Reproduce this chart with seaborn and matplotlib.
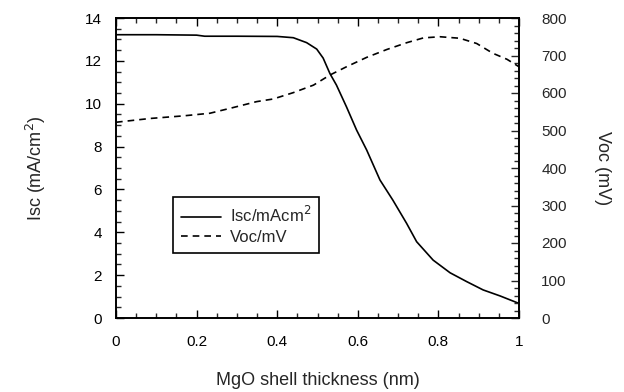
import seaborn as sns
import matplotlib.pyplot as plt
import pandas as pd
from matplotlib.ticker import MultipleLocator

sns.set_theme(style="ticks")
plt.rcParams['font.family'] = ['Liberation Sans', 'DejaVu Sans']

# data
thick_isc = [0.0, 0.1, 0.2, 0.22, 0.3, 0.4, 0.44, 0.473, 0.498, 0.514, 0.531, 0.547,
             0.572, 0.597, 0.622, 0.655, 0.687, 0.721, 0.746, 0.787, 0.829, 0.87,
             0.911, 0.953, 1.0]
isc = [13.22, 13.22, 13.2, 13.15, 13.15, 13.14, 13.08, 12.85, 12.55, 12.13, 11.4, 10.87,
       9.85, 8.77, 7.84, 6.44, 5.5, 4.42, 3.56, 2.7, 2.11, 1.7, 1.31, 1.03, 0.68]

thick_voc = [0.0, 0.084, 0.167, 0.233, 0.29, 0.349, 0.39, 0.44, 0.49, 0.531, 0.572,
             0.622, 0.672, 0.721, 0.763, 0.804, 0.853, 0.895, 0.935, 0.97, 1.0]
voc = [522, 532, 539, 546, 561, 577, 584, 601, 621, 648, 670, 695, 716, 734, 747,
       750, 746, 732, 706, 690, 670]

df_isc = pd.DataFrame({"t": thick_isc, "v": isc})
df_voc = pd.DataFrame({"t": thick_voc, "v": voc})

fig = plt.figure(figsize=(6.24, 3.92), dpi=100)
ax = fig.add_axes([116/624, 1-318/392, 403/624, 300/392])
ax2 = ax.twinx()

sns.lineplot(data=df_isc, x="t", y="v", ax=ax, color="black", lw=1.2, label="Isc/mAcm$^2$", legend=False)
sns.lineplot(data=df_voc, x="t", y="v", ax=ax2, color="black", lw=1.2, linestyle=(0, (4, 3)), label="Voc/mV", legend=False)

ax.set_xlim(0, 1)
ax.set_ylim(0, 14)
ax2.set_ylim(0, 800)

ax.xaxis.set_major_locator(MultipleLocator(0.2))
ax.xaxis.set_minor_locator(MultipleLocator(0.05))
ax.yaxis.set_major_locator(MultipleLocator(2))
ax.yaxis.set_minor_locator(MultipleLocator(0.5))
ax2.yaxis.set_major_locator(MultipleLocator(100))
ax2.yaxis.set_minor_locator(MultipleLocator(20))
ax.set_xticks([0, 0.2, 0.4, 0.6, 0.8, 1.0])
ax.set_xticklabels(["0", "0.2", "0.4", "0.6", "0.8", "1"])

ax.tick_params(axis="x", which="major", direction="in", length=6, width=1, labelsize=11, top=True, pad=12, colors="black")
ax.tick_params(axis="y", which="major", direction="in", length=6, width=1, labelsize=11, pad=10, colors="black")
ax.tick_params(axis="both", which="minor", direction="in", length=3.5, width=1, top=True)
ax.tick_params(axis="y", right=False, which="both")
ax2.tick_params(axis="y", which="major", direction="in", length=6, width=1, labelsize=11, pad=16)
ax2.tick_params(axis="y", which="minor", direction="in", length=3.5, width=1)

for a in (ax, ax2):
    for s in a.spines.values():
        s.set_linewidth(1.2)
        s.set_color("black")

ax.set_xlabel("MgO shell thickness (nm)", fontsize=13, labelpad=17)
ax.set_ylabel("Isc (mA/cm$^2$)", fontsize=13, labelpad=27)
ax2.set_ylabel("Voc (mV)", fontsize=13, rotation=270, labelpad=32)

lines = ax.get_lines() + ax2.get_lines()
leg = ax.legend(lines, [l.get_label() for l in lines], loc="upper left",
                bbox_to_anchor=(57/403, (318-197)/300), fontsize=12, frameon=True,
                fancybox=False, edgecolor="black", framealpha=1, handlelength=2.4,
                borderpad=0.5, labelspacing=0.25, handletextpad=0.5, borderaxespad=0)
leg.get_frame().set_linewidth(1.2)

fig.savefig("out.png", dpi=100)
